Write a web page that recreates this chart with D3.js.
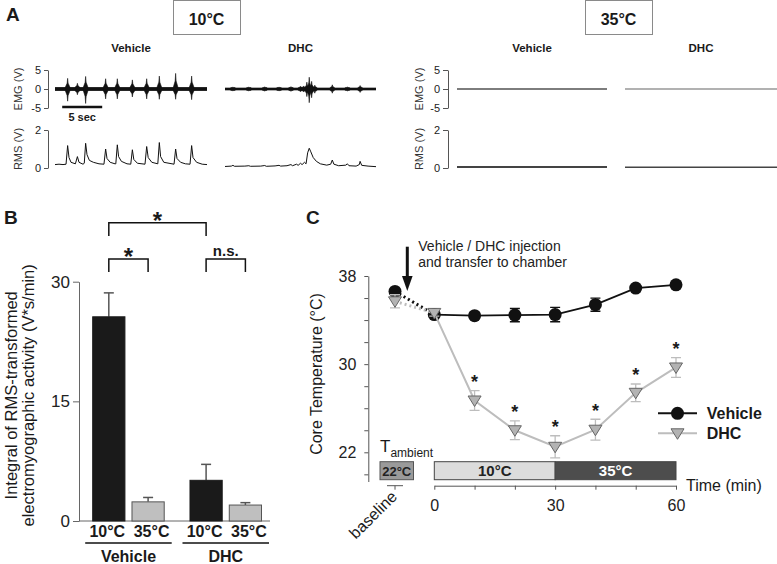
<!DOCTYPE html>
<html><head><meta charset="utf-8">
<script src="https://cdn.jsdelivr.net/npm/d3@7"></script>
<style>body{margin:0;background:#fff} text{font-family:"Liberation Sans",Arial,Helvetica,sans-serif}</style>
</head><body><svg id="c" width="777" height="564"></svg>
<script>
// ================= DATA =================
// Panel A: EMG burst events [time s, upper V, lower V]
const emgTicks = [5, 0, -5];
const rmsTicks = [2, 0];
const vehBursts10 = [[1.58,2.8,-3.2],[2.8,1.5,-1.5],[3.83,3.3,-3.8],[6.33,2.7,-2.6],[7.79,2.7,-2.6],[9.67,2.4,-2.1],[11.46,2.7,-2.6],[13.04,3.4,-2.7],[15.08,4.1,-2.7],[17.08,3.4,-2.8]];
const dhcBursts10 = [[1.0,0.5,-0.5],[3.0,0.5,-0.5],[5.0,0.55,-0.55],[6.8,0.5,-0.5],[8.3,0.6,-0.6],[9.5,0.7,-0.7],[9.9,0.8,-0.8],[10.3,1.8,-2.0],[10.6,3.1,-3.6],[10.9,2.0,-2.3],[11.3,1.0,-1.1],[13.5,1.1,-1.1],[15.4,0.5,-0.5],[17.0,0.9,-0.9]];
const vehBursts35 = [];
const dhcBursts35 = [];
// RMS traces [time s, V]
const vehRms10 = [[0,0.18],[0.5,0.2],[1.0,0.18],[1.38,0.2],[1.58,1.18],[1.75,0.55],[2.0,0.3],[2.55,0.22],[2.8,0.6],[3.0,0.3],[3.5,0.2],[3.66,0.25],[3.83,1.3],[4.0,0.7],[4.3,0.4],[4.8,0.3],[5.5,0.22],[6.12,0.2],[6.33,1.0],[6.5,0.5],[6.9,0.3],[7.5,0.22],[7.6,0.22],[7.79,1.22],[7.95,0.6],[8.3,0.35],[9.0,0.22],[9.47,0.2],[9.67,0.96],[9.85,0.45],[10.3,0.25],[11.25,0.2],[11.46,1.13],[11.65,0.55],[12.1,0.3],[12.85,0.22],[13.04,1.34],[13.2,0.6],[13.6,0.3],[14.88,0.2],[15.08,1.0],[15.25,0.5],[15.7,0.3],[16.3,0.22],[16.88,0.2],[17.08,1.18],[17.25,0.55],[17.7,0.3],[18.4,0.2],[19,0.18]];
const dhcRms10 = [[0,0.08],[0.8,0.1],[1.0,0.14],[1.2,0.09],[2.5,0.1],[3.0,0.12],[3.2,0.09],[4.5,0.1],[5.0,0.13],[5.2,0.09],[6.3,0.11],[6.8,0.14],[7.0,0.1],[7.8,0.12],[8.3,0.18],[8.5,0.12],[9.0,0.2],[9.2,0.14],[9.5,0.25],[9.7,0.18],[10.0,0.3],[10.2,0.22],[10.4,0.8],[10.6,1.04],[10.8,0.85],[11.1,0.55],[11.5,0.35],[12.0,0.22],[12.8,0.15],[13.3,0.2],[13.5,0.42],[13.7,0.2],[14.3,0.12],[15.2,0.15],[15.4,0.22],[15.6,0.12],[16.5,0.1],[16.9,0.18],[17.0,0.35],[17.2,0.14],[18,0.1],[19,0.07]];
const vehRms35 = [[0,0.05],[19,0.05]];
const dhcRms35 = [[0,0.04],[19,0.04]];

// Panel B
const groupsB = ["Vehicle", "DHC"];
const tempsB = ["10°C", "35°C"];
const valuesB = [[25.6, 2.4], [5.1, 2.0]];
const errorsB = [[3.0, 0.55], [2.0, 0.3]];
const ticksB = [0, 15, 30];

// Panel C
const timesC = [0, 10, 20, 30, 40, 50, 60];
const vehC = [34.5, 34.4, 34.45, 34.5, 35.4, 36.9, 37.2];
const vehErrC = [0.2, 0.3, 0.6, 0.65, 0.6, 0.2, 0.2];
const dhcC = [34.65, 26.7, 24.0, 22.5, 24.05, 27.4, 29.7];
const dhcErrC = [0.3, 0.9, 0.85, 1.0, 0.95, 0.8, 0.9];
const vehBaseC = 36.6, vehBaseErrC = 0.25;
const dhcBaseC = 35.7, dhcBaseErrC = 0.6;
const sigC = [false, true, true, true, true, true, true];
const yTicksC = [20, 22, 24, 26, 28, 30, 32, 34, 36, 38];
const yLabelsC = [22, 30, 38];
const xLabelsC = [0, 30, 60];

// ================= DRAW =================
const svg = d3.select("#c");
svg.append("rect").attr("width", 777).attr("height", 564).attr("fill", "#fff");

function label(x, y, txt, size, opts = {}) {
  const t = svg.append("text").attr("x", x).attr("y", y).text(txt)
    .attr("font-size", size).attr("fill", opts.fill || "#1a1a1a")
    .attr("font-weight", opts.bold ? "bold" : "normal")
    .attr("text-anchor", opts.anchor || "start");
  if (opts.rotate !== undefined) t.attr("transform", `rotate(${opts.rotate},${x},${y})`);
  return t;
}
function styleAxis(g, size, color) {
  g.selectAll("path,line").attr("stroke", color || "#555");
  g.selectAll("text").attr("font-size", size).attr("fill", "#222")
    .attr("font-family", '"Liberation Sans",Arial,sans-serif');
}

// ---------- Panel A ----------
label(6, 21, "A", 19, { bold: true });
const panelsA = [
  { temp: "10°C", box: [173, 240], axisX: 48, labX: 21.5, tickSize: 4,
    traces: [{ name: "Vehicle", x0: 55, x1: 207, bursts: vehBursts10, rms: vehRms10, band: 0.5, w: 1 },
             { name: "DHC", x0: 225, x1: 376, bursts: dhcBursts10, rms: dhcRms10, band: 0.35, w: 1 }] },
  { temp: "35°C", box: [585, 652], axisX: 448, labX: 422.5, tickSize: 5,
    traces: [{ name: "Vehicle", x0: 457, x1: 607, bursts: vehBursts35, rms: vehRms35, band: 0.2, w: 2 },
             { name: "DHC", x0: 625, x1: 777, bursts: dhcBursts35, rms: dhcRms35, band: 0.12, w: 1.3 }] }
];
const yEmg = d3.scaleLinear().domain([-5, 5]).range([108, 70]);
const yRms = d3.scaleLinear().domain([0, 2]).range([168, 130]);
const intFmt = d => d < 0 ? "-" + Math.abs(d) : String(d);
panelsA.forEach(p => {
  svg.append("rect").attr("x", p.box[0] + 0.5).attr("y", 0.5).attr("width", p.box[1] - p.box[0]).attr("height", 34)
    .attr("fill", "#fff").attr("stroke", "#8a8a8a");
  label((p.box[0] + p.box[1]) / 2, 25, p.temp, 16, { bold: true, anchor: "middle" });
  const ge = svg.append("g").attr("transform", `translate(${p.axisX},0)`)
    .call(d3.axisLeft(yEmg).tickValues(emgTicks).tickSize(p.tickSize).tickSizeOuter(0).tickPadding(3).tickFormat(intFmt));
  styleAxis(ge, 11);
  const gr = svg.append("g").attr("transform", `translate(${p.axisX},0)`)
    .call(d3.axisLeft(yRms).tickValues(rmsTicks).tickSize(p.tickSize).tickSizeOuter(0).tickPadding(3).tickFormat(intFmt));
  styleAxis(gr, 11);
  label(p.labX, yEmg(0), "EMG (V)", 11, { anchor: "middle", rotate: -90, fill: "#333" });
  label(p.labX, yRms(1), "RMS (V)", 11, { anchor: "middle", rotate: -90, fill: "#333" });
  p.traces.forEach(tr => {
    const x = d3.scaleLinear().domain([0, 19]).range([tr.x0, tr.x1]);
    label((tr.x0 + tr.x1) / 2, 52, tr.name, 11.5, { bold: true, anchor: "middle" });
    // EMG baseline band
    svg.append("rect").attr("x", x(0)).attr("width", x(19) - x(0))
      .attr("y", yEmg(tr.band)).attr("height", yEmg(-tr.band) - yEmg(tr.band))
      .attr("fill", p.temp === "35°C" ? "#555" : "#111");
    // bursts (spindle-shaped marks)
    const hw = 0.28, nw = 0.06;
    svg.append("g").selectAll("path").data(tr.bursts).join("path")
      .attr("d", d => {
        const b = tr.band;
        return `M${x(d[0] - hw)},${yEmg(b)}L${x(d[0] - nw)},${yEmg(b + (d[1] - b) * 0.45)}L${x(d[0])},${yEmg(d[1])}L${x(d[0] + nw)},${yEmg(b + (d[1] - b) * 0.45)}L${x(d[0] + hw)},${yEmg(b)}` +
               `L${x(d[0] + hw)},${yEmg(-b)}L${x(d[0] + nw)},${yEmg(-b + (d[2] + b) * 0.45)}L${x(d[0])},${yEmg(d[2])}L${x(d[0] - nw)},${yEmg(-b + (d[2] + b) * 0.45)}L${x(d[0] - hw)},${yEmg(-b)}Z`;
      })
      .attr("fill", "#111").attr("stroke", "#111").attr("stroke-width", 0.6);
    // RMS
    svg.append("path").datum(tr.rms)
      .attr("d", d3.line().x(d => x(d[0])).y(d => yRms(d[1])))
      .attr("fill", "none").attr("stroke", p.temp === "35°C" ? "#444" : "#111").attr("stroke-width", tr.w);
    if (p.temp === "10°C" && tr.name === "Vehicle") {
      svg.append("line").attr("x1", x(0.9)).attr("x2", x(5.9)).attr("y1", 107).attr("y2", 107)
        .attr("stroke", "#111").attr("stroke-width", 2.5);
      label(x(3.4), 121, "5 sec", 11, { bold: true, anchor: "middle" });
    }
  });
});

// ---------- Panel B ----------
label(4, 224, "B", 19, { bold: true });
const yB = d3.scaleLinear().domain([0, 30]).range([521, 281.7]);
const x0B = d3.scaleBand().domain(groupsB).range([92.7, 261.5]).paddingInner(0.265).paddingOuter(0);
const x1B = d3.scaleBand().domain(tempsB).range([0, x0B.bandwidth()]).paddingInner(0.18).paddingOuter(0);
const gyB = svg.append("g").attr("transform", "translate(79,0)")
  .call(d3.axisLeft(yB).tickValues(ticksB).tickSize(6).tickSizeOuter(0).tickPadding(3));
styleAxis(gyB, 17, "#666");
svg.append("line").attr("x1", 79).attr("x2", 270).attr("y1", yB(0)).attr("y2", yB(0)).attr("stroke", "#666");
const cx = (g, t) => x0B(g) + x1B(t) + x1B.bandwidth() / 2;
groupsB.forEach((g, gi) => {
  tempsB.forEach((t, ti) => {
    const v = valuesB[gi][ti], e = errorsB[gi][ti];
    const c = cx(g, t);
    svg.append("line").attr("x1", c).attr("x2", c).attr("y1", yB(v)).attr("y2", yB(v + e)).attr("stroke", "#555").attr("stroke-width", 1.5);
    svg.append("line").attr("x1", c - 5).attr("x2", c + 5).attr("y1", yB(v + e)).attr("y2", yB(v + e)).attr("stroke", "#555").attr("stroke-width", 1.5);
    svg.append("rect").attr("x", x0B(g) + x1B(t)).attr("width", x1B.bandwidth())
      .attr("y", yB(v)).attr("height", yB(0) - yB(v))
      .attr("fill", ti === 0 ? "#1a1a1a" : "#bfbfbf").attr("stroke", ti === 0 ? "#1a1a1a" : "#555").attr("stroke-width", 1);
    label(c + (ti === 0 ? -1.5 : 3.5), 537, t, 16, { bold: true, anchor: "middle" });
  });
  const gc = x0B(g) + x0B.bandwidth() / 2;
  svg.append("line").attr("x1", x0B(g) - 7.5).attr("x2", x0B(g) + x0B.bandwidth() + 7.5).attr("y1", 543).attr("y2", 543)
    .attr("stroke", "#111").attr("stroke-width", 1.5);
  label(gc, 562, g, 16, { bold: true, anchor: "middle" });
});
// y label
label(17, yB(15) - 6, "Integral of RMS-transformed", 16.5, { anchor: "middle", rotate: -90 });
label(34, yB(15) - 6, "electromyographic activity (V*s/min)", 16.5, { anchor: "middle", rotate: -90 });
// significance brackets
function bracket(xa, xb, yTop, yBot, txt, size) {
  svg.append("path").attr("d", `M${xa},${yBot}V${yTop}H${xb}V${yBot}`).attr("fill", "none").attr("stroke", "#111").attr("stroke-width", 1.5);
  label((xa + xb) / 2, txt === "*" ? yTop + 6 : yTop - 3, txt, size, { bold: true, anchor: "middle" });
}
bracket(cx("Vehicle", "10°C"), cx("DHC", "10°C"), 222.7, 236, "*", 24);
bracket(cx("Vehicle", "10°C"), cx("Vehicle", "35°C"), 259, 272, "*", 24);
bracket(cx("DHC", "10°C"), cx("DHC", "35°C"), 259, 272, "n.s.", 15);

// ---------- Panel C ----------
label(306, 224, "C", 19, { bold: true });
const xC = d3.scaleLinear().domain([0, 60]).range([434.3, 676]);
const xBaseC = d3.scalePoint().domain(["baseline"]).range([387, 403]).padding(0.5);
const bx = xBaseC("baseline");
const yC = d3.scaleLinear().domain([19.35, 38]).range([481.5, 276]);
const gyC = svg.append("g").attr("transform", "translate(368.3,0)")
  .call(d3.axisLeft(yC).tickValues(yTicksC).tickSize(4).tickSizeOuter(0).tickPadding(8)
    .tickFormat(d => yLabelsC.includes(d) ? d : ""));
styleAxis(gyC, 16, "#555");
label(322, 374, "Core Temperature (°C)", 16, { anchor: "middle", rotate: -90 });
const axY = 485.7;
const gxC = svg.append("g").attr("transform", `translate(0,${axY})`)
  .call(d3.axisBottom(xC).tickValues(timesC).tickSize(4).tickSizeOuter(0).tickPadding(10)
    .tickFormat(d => xLabelsC.includes(d) ? d : ""));
styleAxis(gxC, 16, "#555");
svg.append("line").attr("x1", 387).attr("x2", 403).attr("y1", axY).attr("y2", axY).attr("stroke", "#555");
svg.append("line").attr("x1", bx).attr("x2", bx).attr("y1", axY).attr("y2", axY + 4).attr("stroke", "#555");
label(bx + 3, axY + 12, "baseline", 16, { anchor: "end", rotate: -45 });
label(686, 491, "Time (min)", 16);

// ambient bars
label(380, 452, "", 17).call(t => {
  t.append("tspan").text("T").attr("font-size", 17);
  t.append("tspan").text("ambient").attr("font-size", 12).attr("dy", 5);
});
svg.append("rect").attr("x", bx - 15).attr("y", 461.7).attr("width", 33.5).attr("height", 18).attr("fill", "#9a9a9a").attr("stroke", "#555");
label(bx + 1.7, 476, "22°C", 13, { bold: true, anchor: "middle", fill: "#222" });
svg.append("rect").attr("x", xC(0)).attr("y", 461.7).attr("width", xC(30) - xC(0)).attr("height", 18).attr("fill", "#dcdcdc").attr("stroke", "#444");
label((xC(0) + xC(30)) / 2, 476, "10°C", 15, { bold: true, anchor: "middle", fill: "#222" });
svg.append("rect").attr("x", xC(30)).attr("y", 461.7).attr("width", xC(60) - xC(30)).attr("height", 18).attr("fill", "#4d4d4d").attr("stroke", "#444");
label((xC(30) + xC(60)) / 2, 476, "35°C", 15, { bold: true, anchor: "middle", fill: "#fff" });

// arrow + annotation
svg.append("line").attr("x1", 407.3).attr("x2", 407.3).attr("y1", 246.7).attr("y2", 278).attr("stroke", "#111").attr("stroke-width", 3);
svg.append("path").attr("d", "M402,276L412.6,276L407.3,291Z").attr("fill", "#111");
label(418.3, 250.5, "Vehicle / DHC injection", 14, { fill: "#222" });
label(418.3, 267, "and transfer to chamber", 14, { fill: "#222" });

const tri = "M-6.5,-4.5L6.5,-4.5L0,6Z";
function series(vals, errs, base, baseErr, color, errColor, isTri) {
  const pts = timesC.map((t, i) => [xC(t), yC(vals[i])]);
  svg.append("path").attr("d", `M${bx},${yC(base)}L${pts[0][0]},${pts[0][1]}`)
    .attr("stroke", color).attr("stroke-width", 3).attr("stroke-dasharray", "2,3").attr("fill", "none");
  svg.append("path").datum(pts).attr("d", d3.line()).attr("fill", "none").attr("stroke", color).attr("stroke-width", isTri ? 2 : 1.8);
  const all = [[bx, base, baseErr]].concat(timesC.map((t, i) => [xC(t), vals[i], errs[i]]));
  all.forEach(d => {
    svg.append("path").attr("d", `M${d[0] - 5},${yC(d[1] + d[2])}H${d[0] + 5}M${d[0]},${yC(d[1] + d[2])}V${yC(d[1] - d[2])}M${d[0] - 5},${yC(d[1] - d[2])}H${d[0] + 5}`)
      .attr("stroke", errColor).attr("stroke-width", 1.3).attr("fill", "none");
  });
  all.forEach(d => {
    if (isTri) svg.append("path").attr("d", tri).attr("transform", `translate(${d[0]},${yC(d[1])})`).attr("fill", "#b3b3b3").attr("stroke", "#666").attr("stroke-width", 1);
    else svg.append("circle").attr("cx", d[0]).attr("cy", yC(d[1])).attr("r", 6.5).attr("fill", "#111");
  });
}
series(vehC, vehErrC, vehBaseC, vehBaseErrC, "#111", "#111", false);
series(dhcC, dhcErrC, dhcBaseC, dhcBaseErrC, "#bdbdbd", "#bdbdbd", true);
timesC.forEach((t, i) => {
  if (sigC[i]) label(xC(t), yC(dhcC[i] + dhcErrC[i]) - 2.5, "*", 18, { bold: true, anchor: "middle" });
});
// legend
[["Vehicle", 413.3, "#111", false], ["DHC", 433.3, "#bdbdbd", true]].forEach(([n, ly, col, isTri]) => {
  svg.append("line").attr("x1", 658).attr("x2", 697).attr("y1", ly).attr("y2", ly).attr("stroke", col).attr("stroke-width", 2);
  if (isTri) svg.append("path").attr("d", tri).attr("transform", `translate(677.5,${ly})`).attr("fill", "#b3b3b3").attr("stroke", "#666");
  else svg.append("circle").attr("cx", 677.5).attr("cy", ly).attr("r", 6.5).attr("fill", "#111");
  label(706.7, ly + 6, n, 16, { bold: true });
});
</script></body></html>
